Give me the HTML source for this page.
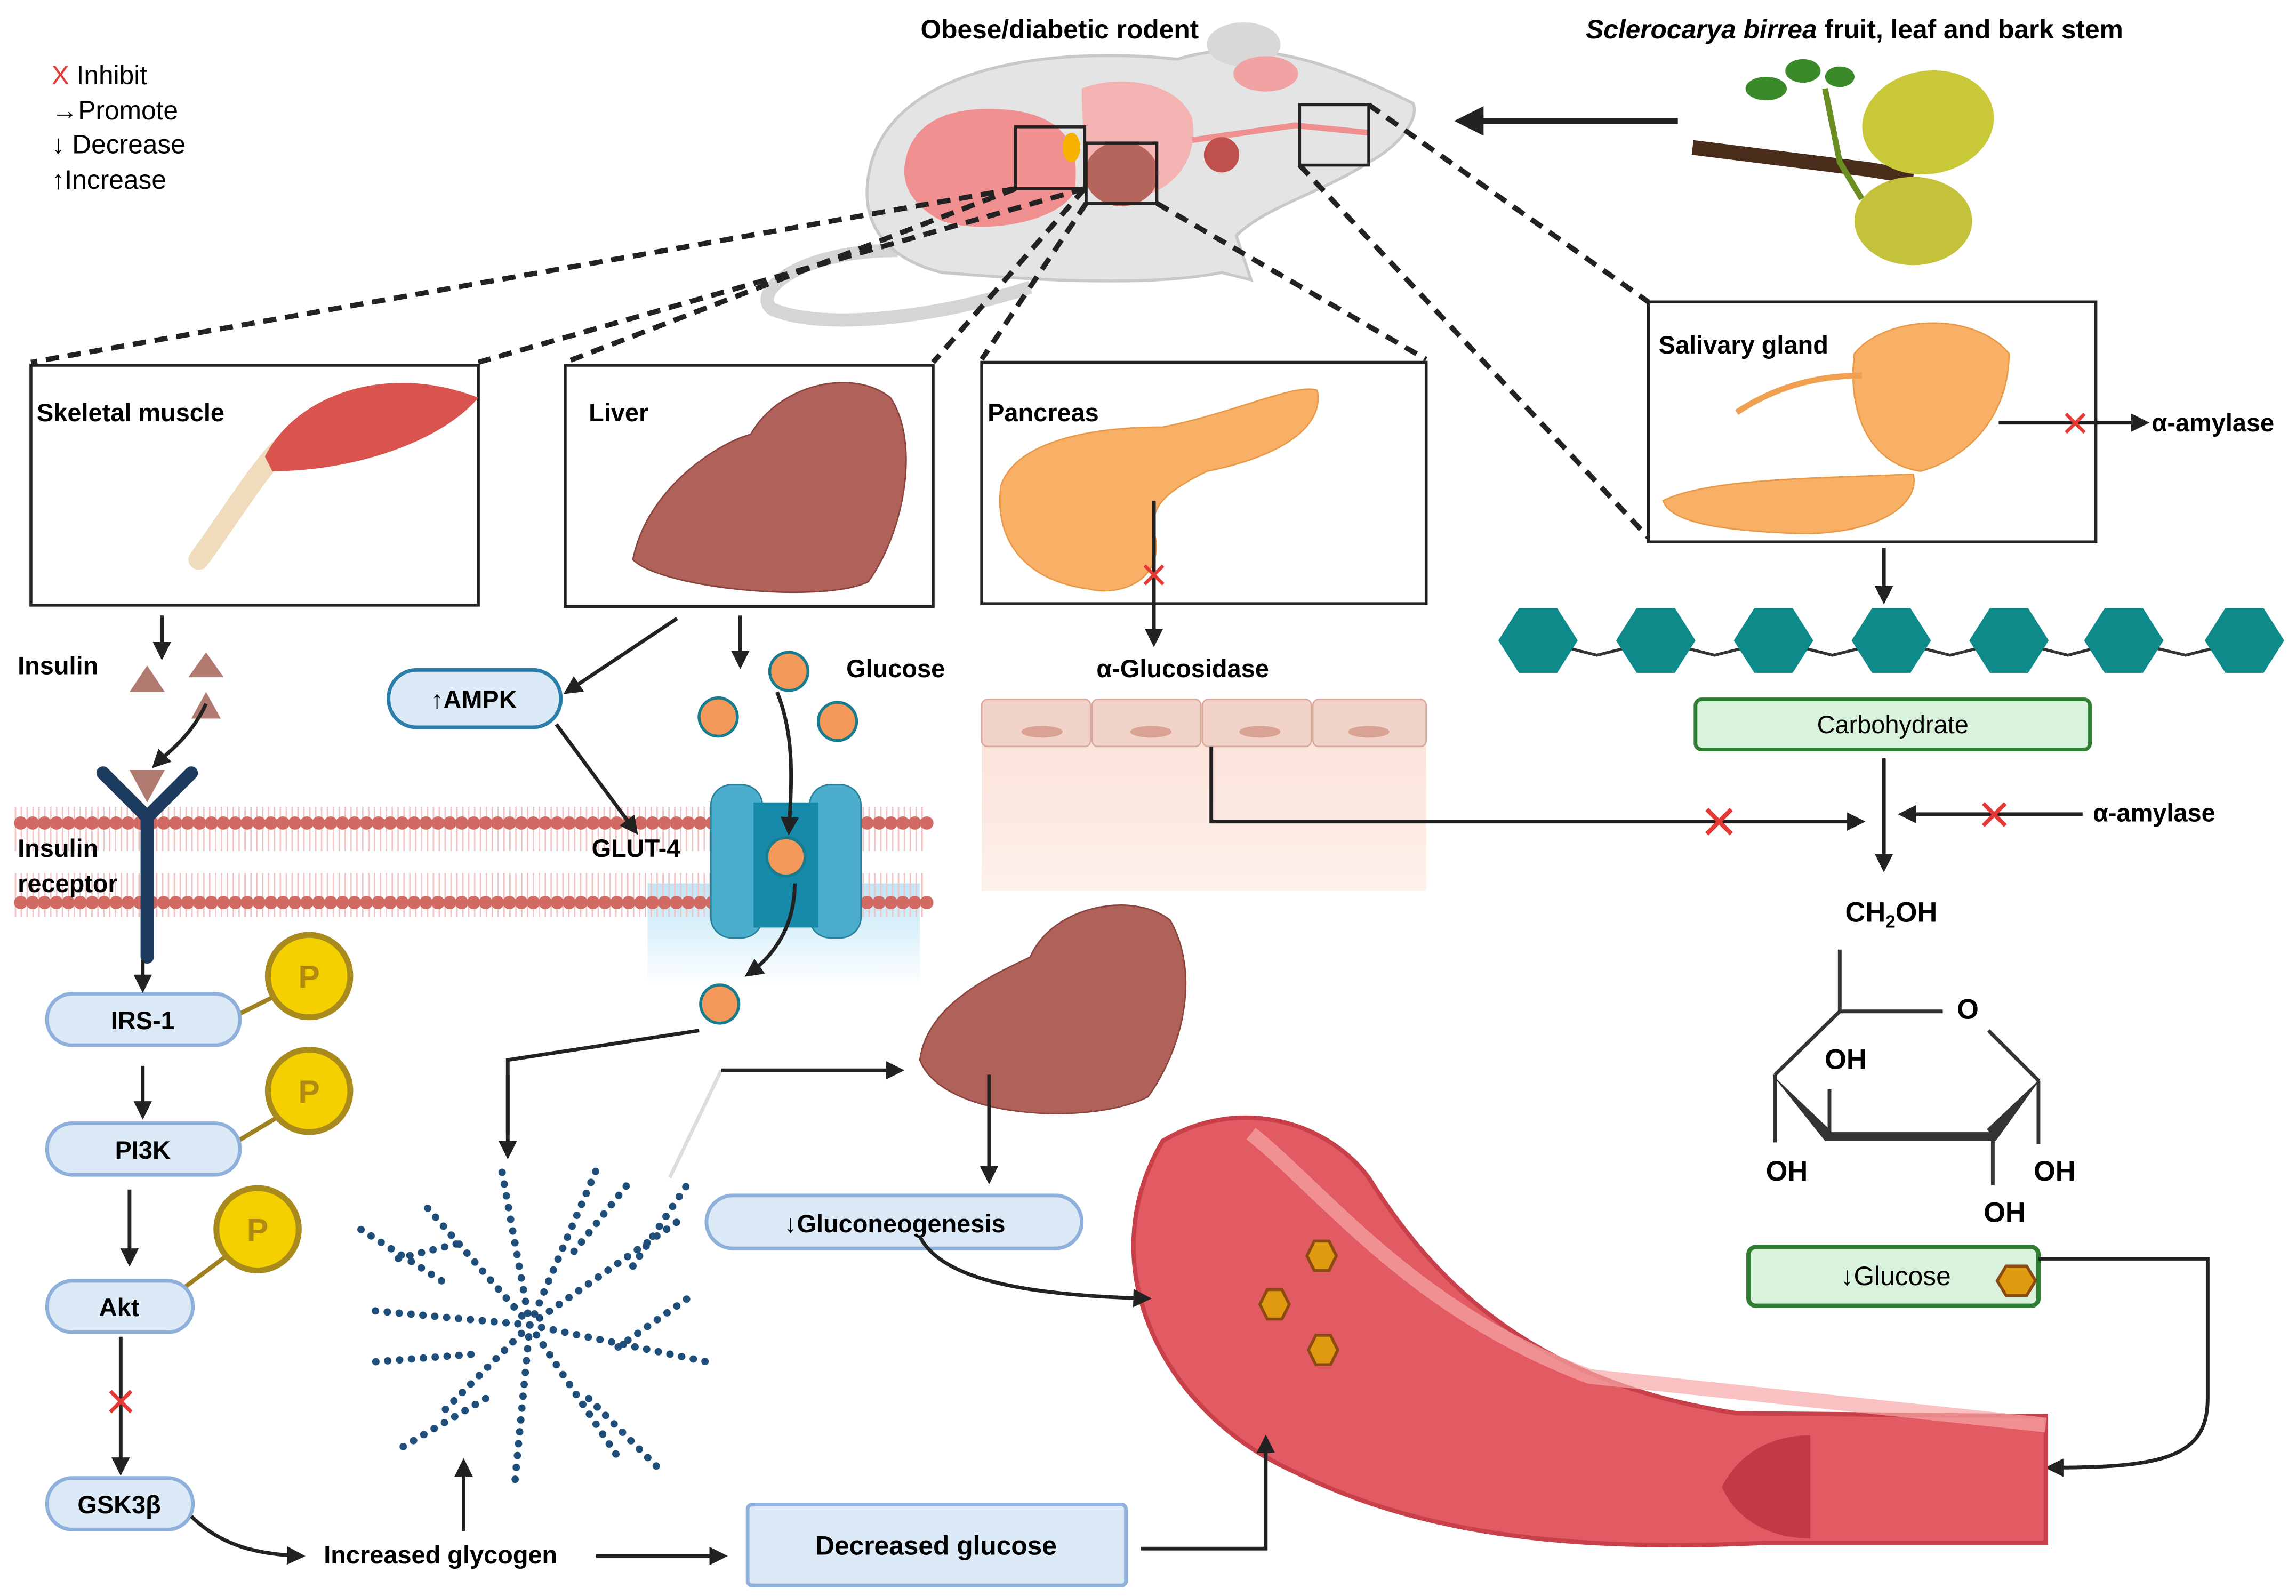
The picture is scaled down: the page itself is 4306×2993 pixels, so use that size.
<!DOCTYPE html>
<html><head><meta charset="utf-8"><style>
html,body{margin:0;padding:0;background:#fff;}
svg{display:block;}
text{font-family:"Liberation Sans",sans-serif;}
.b{font-weight:bold;}
</style></head><body>
<svg width="4306" height="2993" viewBox="0 0 1560 1084" xmlns="http://www.w3.org/2000/svg">
<defs>
<marker id="ah" viewBox="0 0 10 10" refX="8" refY="5" markerWidth="5" markerHeight="5" orient="auto"><path d="M0,0L10,5L0,10z" fill="#222"/></marker>
<linearGradient id="bl" x1="0" y1="0" x2="0" y2="1"><stop offset="0" stop-color="#bfe6f7"/><stop offset="1" stop-color="#fff"/></linearGradient>
<linearGradient id="pk" x1="0" y1="0" x2="0" y2="1"><stop offset="0" stop-color="#fbe3da"/><stop offset="1" stop-color="#fdf1ea"/></linearGradient>
</defs>
<rect width="1560" height="1084" fill="#fff"/>

<text x="35" y="57" font-size="18"><tspan fill="#e53935">X</tspan> Inhibit</text>
<text x="35" y="81" font-size="18">→Promote</text>
<text x="35" y="104" font-size="18">↓ Decrease</text>
<text x="35" y="128" font-size="18">↑Increase</text>

<text x="720" y="26" font-size="18" class="b" text-anchor="middle">Obese/diabetic rodent</text>
<text x="1260" y="26" font-size="18" class="b" text-anchor="middle"><tspan font-style="italic">Sclerocarya birrea</tspan> fruit, leaf and bark stem</text>

<path d="M610,170 C540,170 510,200 525,210 C560,225 640,215 700,195" fill="none" stroke="#d5d5d5" stroke-width="9"/>
<path d="M590,120 C600,50 700,30 800,40 C850,25 900,40 960,70 C965,80 950,100 930,110 C900,130 860,140 840,160 L850,190 L830,185 C780,195 700,190 640,185 C600,175 585,150 590,120z" fill="#e4e4e4" stroke="#c8c8c8" stroke-width="2"/>
<ellipse cx="845" cy="30" rx="25" ry="15" fill="#d8d8d8"/>
<path d="M615,110 C620,80 650,70 690,75 C720,80 735,95 730,130 C720,150 670,160 640,150 C620,140 612,125 615,110z" fill="#ef8f8f"/>
<path d="M735,60 C760,50 800,55 810,80 C815,110 795,135 760,135 C740,130 735,100 735,60z" fill="#f4b3b3"/>
<ellipse cx="762" cy="118" rx="25" ry="22" fill="#b5655c"/>
<path d="M810,95 L880,85 L930,90" fill="none" stroke="#ef8f8f" stroke-width="4"/>
<ellipse cx="830" cy="105" rx="12" ry="12" fill="#c0504d"/>
<ellipse cx="860" cy="50" rx="22" ry="12" fill="#f1a3a3"/>
<ellipse cx="728" cy="100" rx="6" ry="10" fill="#f7b200"/>
<g fill="none" stroke="#222" stroke-width="2">
<rect x="690" y="86" width="47" height="42"/><rect x="738" y="97" width="48" height="41"/><rect x="883" y="71" width="47" height="41"/>
</g>
<line x1="1140" y1="82" x2="992" y2="82" stroke="#222" stroke-width="4" marker-end="url(#ah)"/>

<path d="M1150,100 C1190,105 1230,110 1270,115 L1300,120" stroke="#4a2c1a" stroke-width="10" fill="none"/>
<path d="M1240,60 L1250,110 L1265,135" stroke="#6b8e23" stroke-width="4" fill="none"/>
<ellipse cx="1200" cy="60" rx="14" ry="8" fill="#3a8a2a"/><ellipse cx="1225" cy="48" rx="12" ry="8" fill="#3a8a2a"/><ellipse cx="1250" cy="52" rx="10" ry="7" fill="#3a8a2a"/>
<ellipse cx="1310" cy="83" rx="45" ry="35" fill="#c8c838" transform="rotate(-10 1310 83)"/>
<ellipse cx="1300" cy="150" rx="40" ry="30" fill="#c4c23a"/>

<g stroke="#222" stroke-width="3.5" stroke-dasharray="9,6" fill="none">
<line x1="690" y1="128" x2="21" y2="246"/><line x1="737" y1="128" x2="325" y2="246"/>
<line x1="690" y1="128" x2="384" y2="246"/><line x1="737" y1="128" x2="634" y2="246"/>
<line x1="738" y1="138" x2="667" y2="244"/><line x1="786" y1="138" x2="969" y2="244"/>
<line x1="883" y1="112" x2="1120" y2="365"/><line x1="930" y1="71" x2="1120" y2="205"/>
</g>

<g fill="#fff" stroke="#222" stroke-width="2">
<rect x="21" y="248" width="304" height="163"/><rect x="384" y="248" width="250" height="164"/>
<rect x="667" y="246" width="302" height="164"/><rect x="1120" y="205" width="304" height="163"/>
</g>
<text x="25" y="286" font-size="17" class="b">Skeletal muscle</text>
<text x="400" y="286" font-size="17" class="b">Liver</text>
<text x="671" y="286" font-size="17" class="b">Pancreas</text>
<text x="1127" y="240" font-size="17" class="b">Salivary gland</text>

<path d="M135,380 C150,360 175,320 190,305" stroke="#f0dcbc" stroke-width="14" fill="none" stroke-linecap="round"/>
<path d="M180,310 C200,270 260,245 325,270 C300,300 240,320 185,320z" fill="#d9534f"/>
<path d="M430,380 C440,330 490,300 510,295 C530,260 580,250 605,270 C625,300 615,360 590,395 C560,410 450,400 430,380z" fill="#b0615a" stroke="#8a453f"/>
<path d="M680,330 C690,300 740,290 790,290 C840,280 880,260 895,265 C900,290 870,310 820,320 C790,335 780,345 785,365 C790,395 760,405 740,400 C700,395 675,370 680,330z" fill="#f7b066" stroke="#e99a48"/>
<line x1="784" y1="340" x2="784" y2="437" stroke="#222" stroke-width="2.5" marker-end="url(#ah)"/>
<text x="784" y="401" font-size="32" fill="#e53935" text-anchor="middle">×</text>
<path d="M1260,240 C1280,215 1340,210 1365,240 C1365,280 1340,310 1305,320 C1270,315 1255,280 1260,240z" fill="#f7b066" stroke="#e99a48"/>
<path d="M1180,280 C1210,260 1240,255 1265,255" stroke="#f0a050" stroke-width="4" fill="none"/>
<path d="M1130,340 C1160,325 1230,325 1300,322 C1305,345 1270,365 1215,362 C1170,360 1135,355 1130,340z" fill="#f7b066" stroke="#e99a48"/>
<line x1="1358" y1="287" x2="1458" y2="287" stroke="#222" stroke-width="2.5" marker-end="url(#ah)"/>
<text x="1410" y="298" font-size="32" fill="#e53935" text-anchor="middle">×</text>
<text x="1462" y="293" font-size="17" class="b">α-amylase</text>
<line x1="1280" y1="372" x2="1280" y2="408" stroke="#222" stroke-width="2.5" marker-end="url(#ah)"/>

<polyline points="1045,435 1085,445 1125,435 1165,445 1205,435 1245,445 1285,435 1325,445 1365,435 1405,445 1443,435 1485,445 1525,435" fill="none" stroke="#333" stroke-width="2"/>
<g fill="#0e8a8a">
<polygon points="1018,435 1032,413 1058,413 1072,435 1058,457 1032,457"/>
<polygon points="1098,435 1112,413 1138,413 1152,435 1138,457 1112,457"/>
<polygon points="1178,435 1192,413 1218,413 1232,435 1218,457 1192,457"/>
<polygon points="1258,435 1272,413 1298,413 1312,435 1298,457 1272,457"/>
<polygon points="1338,435 1352,413 1378,413 1392,435 1378,457 1352,457"/>
<polygon points="1416,435 1430,413 1456,413 1470,435 1456,457 1430,457"/>
<polygon points="1498,435 1512,413 1538,413 1552,435 1538,457 1512,457"/>
</g>
<rect x="1152" y="475" width="268" height="34" rx="4" fill="#d9f2dc" stroke="#2e7d32" stroke-width="2.5"/>
<text x="1286" y="498" font-size="17" text-anchor="middle">Carbohydrate</text>
<line x1="1280" y1="515" x2="1280" y2="590" stroke="#222" stroke-width="2.5" marker-end="url(#ah)"/>
<line x1="1415" y1="553" x2="1292" y2="553" stroke="#222" stroke-width="2.5" marker-end="url(#ah)"/>
<text x="1355" y="566" font-size="38" fill="#e53935" text-anchor="middle">×</text>
<text x="1422" y="558" font-size="17" class="b">α-amylase</text>

<text x="1285" y="626" font-size="19" class="b" text-anchor="middle">CH<tspan font-size="12" dy="4">2</tspan><tspan dy="-4">OH</tspan></text>
<g stroke="#333" stroke-width="2.5" fill="none">
<line x1="1250" y1="645" x2="1250" y2="687"/><line x1="1250" y1="687" x2="1320" y2="687"/>
<line x1="1250" y1="687" x2="1206" y2="730"/><line x1="1351" y1="700" x2="1385" y2="734"/>
<line x1="1206" y1="730" x2="1206" y2="776"/><line x1="1385" y1="734" x2="1385" y2="777"/>
<line x1="1243" y1="740" x2="1243" y2="770"/><line x1="1354" y1="770" x2="1354" y2="805"/>
<line x1="1240" y1="772" x2="1356" y2="772" stroke-width="6"/>
</g>
<polygon points="1204,730 1244,768 1240,775" fill="#333"/>
<polygon points="1387,732 1350,767 1356,775" fill="#333"/>
<text x="1337" y="692" font-size="19" class="b" text-anchor="middle">O</text>
<text x="1254" y="726" font-size="19" class="b" text-anchor="middle">OH</text>
<text x="1214" y="802" font-size="19" class="b" text-anchor="middle">OH</text>
<text x="1396" y="802" font-size="19" class="b" text-anchor="middle">OH</text>
<text x="1362" y="830" font-size="19" class="b" text-anchor="middle">OH</text>
<rect x="1188" y="847" width="197" height="40" rx="5" fill="#d9f2dc" stroke="#2e7d32" stroke-width="3"/>
<text x="1288" y="873" font-size="18" text-anchor="middle">↓Glucose</text>
<polygon points="1363,860 1377,860 1383,870 1377,880 1363,880 1357,870" fill="#e09a10" stroke="#8a4a10" stroke-width="2"/>
<path d="M1385,855 L1500,855 L1500,950 C1500,990 1470,997 1392,997" fill="none" stroke="#222" stroke-width="2.5" marker-end="url(#ah)"/>

<rect x="667" y="505" width="302" height="100" fill="url(#pk)"/>
<g fill="#f2d3c9" stroke="#d8aa9c">
<rect x="667" y="475" width="74" height="32" rx="4"/><rect x="742" y="475" width="74" height="32" rx="4"/><rect x="817" y="475" width="74" height="32" rx="4"/><rect x="892" y="475" width="77" height="32" rx="4"/>
</g>
<g fill="#d9a394"><ellipse cx="708" cy="497" rx="14" ry="4"/><ellipse cx="782" cy="497" rx="14" ry="4"/><ellipse cx="856" cy="497" rx="14" ry="4"/><ellipse cx="930" cy="497" rx="14" ry="4"/></g>
<text x="745" y="460" font-size="17" class="b">α-Glucosidase</text>
<path d="M823,507 L823,558 L1265,558" fill="none" stroke="#222" stroke-width="2.5" marker-end="url(#ah)"/>
<text x="1168" y="572" font-size="42" fill="#e53935" text-anchor="middle">×</text>

<rect x="440" y="600" width="185" height="70" fill="url(#bl)"/>
<path d="M10,563 L630,563 M10,608 L630,608" stroke-dasharray="1,3" stroke-width="30" stroke="#f2c5c5"/>
<line x1="14" y1="559" x2="630" y2="559" stroke="#d06a62" stroke-width="9" stroke-dasharray="0.1,8" stroke-linecap="round"/>
<line x1="14" y1="613" x2="630" y2="613" stroke="#d06a62" stroke-width="9" stroke-dasharray="0.1,8" stroke-linecap="round"/>
<rect x="483" y="533" width="35" height="104" rx="14" fill="#4aaecc" stroke="#2a7f99"/>
<rect x="550" y="533" width="35" height="104" rx="14" fill="#4aaecc" stroke="#2a7f99"/>
<rect x="512" y="545" width="44" height="85" fill="#168aa8"/>
<text x="402" y="582" font-size="17" class="b">GLUT-4</text>
<text x="12" y="582" font-size="17" class="b">Insulin</text>
<text x="12" y="606" font-size="17" class="b">receptor</text>
<text x="12" y="458" font-size="17" class="b">Insulin</text>
<text x="575" y="460" font-size="17" class="b">Glucose</text>

<path d="M70,525 L100,555 L130,525 M100,555 L100,650" stroke="#1c3b5e" stroke-width="9" fill="none" stroke-linecap="round"/>
<polygon points="88,523 112,523 100,545" fill="#b07a70"/>
<g fill="#b07a70"><polygon points="88,470 100,452 112,470"/><polygon points="128,460 140,443 152,460"/><polygon points="130,488 140,470 150,488"/></g>
<path d="M140,478 C130,500 115,510 105,520" fill="none" stroke="#222" stroke-width="2.5" marker-end="url(#ah)"/>
<line x1="110" y1="418" x2="110" y2="446" stroke="#222" stroke-width="2.5" marker-end="url(#ah)"/>

<g fill="#f4995a" stroke="#167c8e" stroke-width="2">
<circle cx="536" cy="456" r="13"/><circle cx="488" cy="487" r="13"/><circle cx="569" cy="490" r="13"/><circle cx="534" cy="582" r="13"/><circle cx="489" cy="682" r="13"/>
</g>
<path d="M528,470 C540,500 538,530 536,565" fill="none" stroke="#222" stroke-width="2.5" marker-end="url(#ah)"/>
<path d="M540,600 C540,630 525,650 508,662" fill="none" stroke="#222" stroke-width="2.5" marker-end="url(#ah)"/>
<line x1="503" y1="418" x2="503" y2="452" stroke="#222" stroke-width="2.5" marker-end="url(#ah)"/>
<line x1="460" y1="420" x2="385" y2="470" stroke="#222" stroke-width="2.5" marker-end="url(#ah)"/>
<line x1="378" y1="492" x2="432" y2="565" stroke="#222" stroke-width="2.5" marker-end="url(#ah)"/>
<rect x="264" y="455" width="117" height="39" rx="19" fill="#dceaf7" stroke="#2a7faa" stroke-width="2.5"/>
<text x="322" y="481" font-size="17" class="b" text-anchor="middle">↑AMPK</text>

<g stroke="#a08020" stroke-width="3"><line x1="150" y1="695" x2="190" y2="675"/><line x1="150" y1="782" x2="190" y2="758"/><line x1="118" y1="880" x2="158" y2="850"/></g>
<g fill="#f5d000" stroke="#a88a1d" stroke-width="4"><circle cx="210" cy="663" r="28"/><circle cx="210" cy="741" r="28"/><circle cx="175" cy="835" r="28"/></g>
<g font-size="22" class="b" fill="#b08a10" text-anchor="middle"><text x="210" y="671">P</text><text x="210" y="749">P</text><text x="175" y="843">P</text></g>
<g fill="#dceaf7" stroke="#8fb0db" stroke-width="2.5">
<rect x="32" y="675" width="131" height="35" rx="17"/><rect x="32" y="763" width="131" height="35" rx="17"/><rect x="32" y="870" width="99" height="35" rx="17"/><rect x="32" y="1004" width="99" height="35" rx="17"/>
</g>
<g font-size="17" class="b" text-anchor="middle"><text x="97" y="699">IRS-1</text><text x="97" y="787">PI3K</text><text x="81" y="894">Akt</text><text x="81" y="1028">GSK3β</text></g>
<g stroke="#222" stroke-width="2.5" marker-end="url(#ah)">
<line x1="97" y1="652" x2="97" y2="672"/><line x1="97" y1="724" x2="97" y2="758"/><line x1="88" y1="808" x2="88" y2="858"/><line x1="82" y1="908" x2="82" y2="1000"/>
</g>
<text x="82" y="964" font-size="36" fill="#e53935" text-anchor="middle">×</text>
<path d="M130,1030 C150,1050 175,1056 205,1057" fill="none" stroke="#222" stroke-width="2.5" marker-end="url(#ah)"/>
<text x="220" y="1062" font-size="17" class="b">Increased glycogen</text>
<line x1="405" y1="1057" x2="492" y2="1057" stroke="#222" stroke-width="2.5" marker-end="url(#ah)"/>
<line x1="315" y1="1040" x2="315" y2="993" stroke="#222" stroke-width="2.5" marker-end="url(#ah)"/>
<rect x="508" y="1022" width="257" height="55" rx="3" fill="#dceaf7" stroke="#8fb0db" stroke-width="2.5"/>
<text x="636" y="1056" font-size="18" class="b" text-anchor="middle">Decreased glucose</text>

<g stroke="#1f4e7a" stroke-width="5" stroke-dasharray="0.1,8" stroke-linecap="round" fill="none">
<path d="M360,900 L290,820 M360,900 L250,890 M360,900 L300,960 M360,900 L350,1005 M360,900 L420,990 M360,900 L480,925 M360,900 L460,830 M360,900 L405,795 M360,900 L340,790"/>
<path d="M310,845 L270,855 M300,870 L245,835 M330,950 L270,985 M400,950 L450,1000 M420,915 L470,880 M430,860 L470,800 M390,850 L430,800 M320,920 L255,925"/>
</g>
<path d="M345,770 L345,720 L475,700" fill="none" stroke="#222" stroke-width="2.5"/>
<line x1="345" y1="730" x2="345" y2="785" stroke="#222" stroke-width="2.5" marker-end="url(#ah)"/>
<path d="M455,800 L490,727" fill="none" stroke="#ddd" stroke-width="2.5"/>
<path d="M490,727 L612,727" fill="none" stroke="#222" stroke-width="2.5" marker-end="url(#ah)"/>

<path d="M625,720 C630,680 680,660 700,650 C715,615 770,605 795,625 C815,660 805,710 780,745 C740,765 640,760 625,720z" fill="#b0615a" stroke="#8a453f"/>
<line x1="672" y1="730" x2="672" y2="802" stroke="#222" stroke-width="2.5" marker-end="url(#ah)"/>
<rect x="480" y="812" width="255" height="36" rx="18" fill="#dceaf7" stroke="#8fb0db" stroke-width="2.5"/>
<text x="608" y="837" font-size="17" class="b" text-anchor="middle">↓Gluconeogenesis</text>

<!-- vessel -->
<path d="M790,775 C840,745 900,760 930,800 C980,880 1050,940 1180,960 L1390,962 L1390,1048 L1200,1048 C1060,1055 960,1040 880,1000 C790,960 740,860 790,775z" fill="#e25a62" stroke="#c8404a" stroke-width="3"/>
<path d="M850,770 C900,810 960,890 1080,935 L1390,968" fill="none" stroke="#f7a6a6" stroke-width="10" opacity="0.7"/>
<path d="M1170,1010 C1180,990 1200,975 1230,975 L1230,1045 C1200,1045 1178,1030 1170,1010z" fill="#c23a45"/>
<g fill="#e09a10" stroke="#8a4a10" stroke-width="2">
<polygon points="893,843 903,843 908,853 903,863 893,863 888,853"/>
<polygon points="861,876 871,876 876,886 871,896 861,896 856,886"/>
<polygon points="894,907 904,907 909,917 904,927 894,927 889,917"/>
</g>
<path d="M625,840 C640,870 700,880 780,882" fill="none" stroke="#222" stroke-width="2.5" marker-end="url(#ah)"/>
<path d="M775,1052 L860,1052 L860,977" fill="none" stroke="#222" stroke-width="2.5" marker-end="url(#ah)"/>
</svg>
</body></html>
